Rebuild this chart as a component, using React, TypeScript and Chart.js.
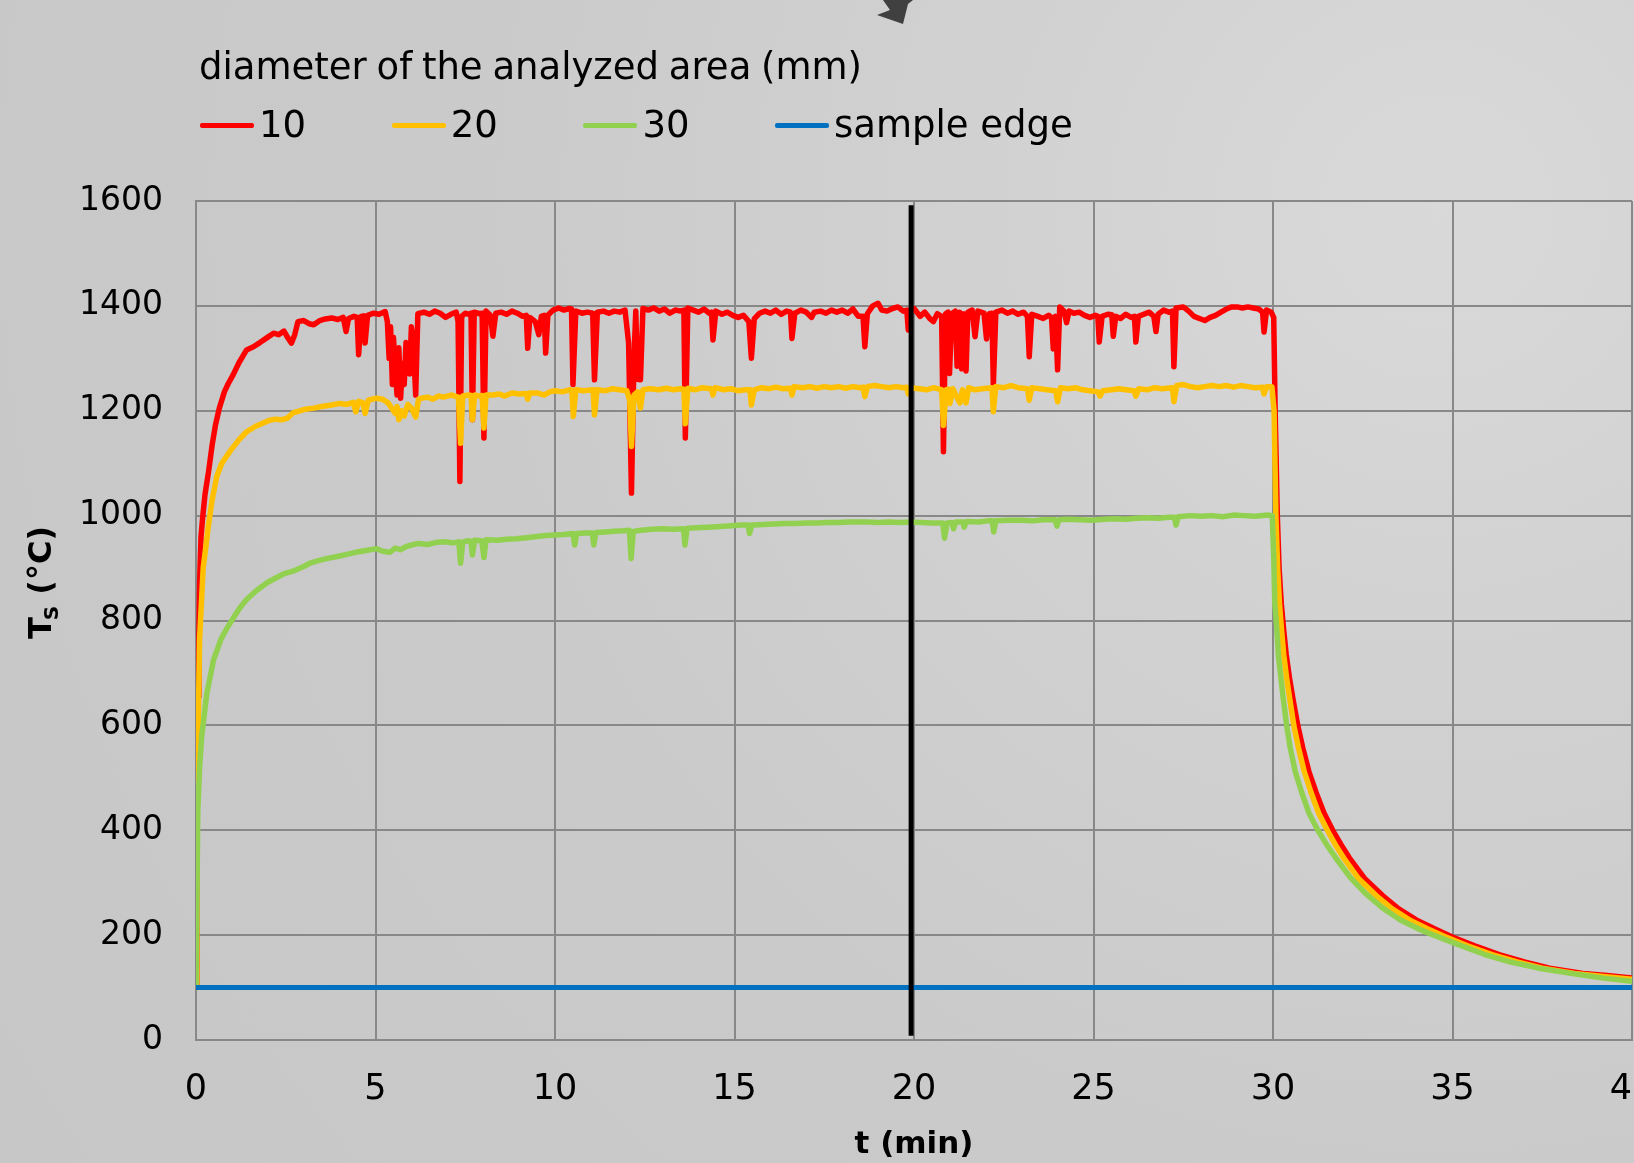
import React, { useEffect, useRef } from "react";
import { Chart, registerables } from "chart.js";

Chart.register(...registerables);

// ---------- data: [t (min), Ts (°C)] ----------
const xTicks = [0, 5, 10, 15, 20, 25, 30, 35, 40];
const yTicks = [0, 200, 400, 600, 800, 1000, 1200, 1400, 1600];

const seriesNames = ["10", "20", "30", "sample edge"];
const seriesColors = ["#ff0000", "#ffc000", "#92d050", "#0070c0"];

const series10: [number, number][] = [
  [0, 100], [0.02, 400], [0.04, 545], [0.06, 655], [0.08, 765], [0.1, 875], [0.14, 960], [0.18, 992], [0.25, 1040], [0.35, 1084],
  [0.45, 1135], [0.54, 1172], [0.65, 1205], [0.79, 1236], [0.9, 1252], [1.03, 1268], [1.2, 1292], [1.41, 1316], [1.6, 1322], [1.78, 1330],
  [1.95, 1338], [2.16, 1348], [2.3, 1345], [2.45, 1352], [2.55, 1340], [2.66, 1329], [2.75, 1345], [2.84, 1370], [3.0, 1372], [3.15, 1366],
  [3.28, 1364], [3.45, 1372], [3.6, 1375], [3.78, 1377], [3.95, 1374], [4.1, 1378], [4.18, 1351], [4.25, 1376], [4.4, 1380], [4.49, 1378],
  [4.53, 1307], [4.6, 1380], [4.67, 1381], [4.71, 1329], [4.78, 1382], [4.95, 1386], [5.1, 1384], [5.27, 1389], [5.33, 1370], [5.38, 1300],
  [5.42, 1360], [5.47, 1250], [5.5, 1340], [5.55, 1280], [5.6, 1230], [5.65, 1320], [5.7, 1224], [5.75, 1290], [5.8, 1250], [5.85, 1330],
  [5.9, 1300], [5.95, 1270], [6.0, 1360], [6.05, 1330], [6.12, 1230], [6.18, 1385], [6.35, 1388], [6.5, 1384], [6.65, 1390], [6.8, 1386],
  [6.95, 1378], [7.1, 1384], [7.25, 1388], [7.3, 1370], [7.35, 1065], [7.4, 1380], [7.5, 1386], [7.6, 1384], [7.66, 1386], [7.7, 1183],
  [7.75, 1388], [7.9, 1385], [7.97, 1386], [8.02, 1148], [8.08, 1390], [8.2, 1382], [8.27, 1342], [8.35, 1386], [8.5, 1388], [8.65, 1384],
  [8.8, 1390], [8.95, 1386], [9.1, 1380], [9.2, 1382], [9.24, 1319], [9.3, 1378], [9.45, 1370], [9.55, 1345], [9.62, 1380], [9.7, 1382],
  [9.74, 1310], [9.8, 1382], [9.95, 1392], [10.1, 1396], [10.25, 1392], [10.4, 1395], [10.46, 1394], [10.5, 1250], [10.58, 1390], [10.75, 1386],
  [10.9, 1388], [11.05, 1386], [11.1, 1259], [11.18, 1388], [11.35, 1390], [11.5, 1386], [11.65, 1390], [11.8, 1388], [11.95, 1392], [12.05, 1330],
  [12.13, 1043], [12.2, 1300], [12.25, 1390], [12.3, 1260], [12.38, 1259], [12.45, 1395], [12.6, 1392], [12.75, 1396], [12.9, 1390], [13.05, 1394],
  [13.2, 1386], [13.35, 1392], [13.5, 1390], [13.59, 1392], [13.63, 1148], [13.7, 1396], [13.85, 1392], [14.0, 1388], [14.15, 1394], [14.3, 1386],
  [14.36, 1388], [14.4, 1335], [14.48, 1390], [14.65, 1384], [14.8, 1388], [14.95, 1382], [15.1, 1378], [15.25, 1382], [15.4, 1370], [15.47, 1300],
  [15.55, 1375], [15.7, 1386], [15.85, 1390], [16.0, 1386], [16.15, 1392], [16.3, 1384], [16.45, 1390], [16.56, 1388], [16.6, 1338], [16.68, 1386],
  [16.85, 1392], [17.0, 1388], [17.15, 1378], [17.22, 1388], [17.4, 1390], [17.55, 1386], [17.7, 1392], [17.85, 1388], [18.0, 1392], [18.15, 1386],
  [18.3, 1394], [18.45, 1380], [18.58, 1380], [18.63, 1322], [18.7, 1385], [18.85, 1400], [19.0, 1405], [19.1, 1392], [19.25, 1390], [19.4, 1395],
  [19.55, 1398], [19.7, 1390], [19.8, 1392], [19.84, 1354], [19.9, 1392], [20.0, 1395], [20.17, 1380], [20.3, 1388], [20.45, 1375], [20.54, 1370],
  [20.65, 1385], [20.77, 1380], [20.82, 1122], [20.88, 1385], [20.95, 1388], [20.99, 1271], [21.05, 1385], [21.15, 1390], [21.2, 1285], [21.27, 1388],
  [21.33, 1280], [21.38, 1385], [21.45, 1276], [21.5, 1388], [21.62, 1392], [21.7, 1341], [21.78, 1390], [21.95, 1386], [22.02, 1337], [22.1, 1385],
  [22.17, 1386], [22.21, 1249], [22.28, 1388], [22.45, 1392], [22.6, 1386], [22.75, 1390], [22.9, 1384], [23.05, 1388], [23.16, 1380], [23.21, 1303],
  [23.28, 1384], [23.45, 1380], [23.6, 1376], [23.75, 1382], [23.83, 1378], [23.88, 1318], [23.94, 1380], [24.0, 1278], [24.06, 1398], [24.18, 1390],
  [24.25, 1368], [24.32, 1390], [24.45, 1386], [24.6, 1388], [24.75, 1382], [24.9, 1378], [25.05, 1382], [25.12, 1380], [25.16, 1331], [25.24, 1380],
  [25.4, 1384], [25.51, 1383], [25.55, 1342], [25.62, 1380], [25.75, 1376], [25.9, 1384], [26.05, 1378], [26.14, 1380], [26.18, 1331], [26.25, 1380],
  [26.4, 1384], [26.55, 1388], [26.68, 1380], [26.74, 1351], [26.8, 1384], [26.95, 1392], [27.1, 1388], [27.2, 1390], [27.24, 1284], [27.3, 1396],
  [27.5, 1398], [27.65, 1390], [27.8, 1380], [27.95, 1376], [28.1, 1372], [28.25, 1378], [28.4, 1382], [28.55, 1388], [28.7, 1394], [28.85, 1398],
  [29.0, 1398], [29.15, 1396], [29.3, 1398], [29.45, 1396], [29.6, 1394], [29.71, 1388], [29.75, 1350], [29.82, 1392], [29.95, 1388], [30.02, 1378],
  [30.06, 1200], [30.12, 1000], [30.17, 900], [30.23, 833], [30.3, 780], [30.37, 734], [30.46, 690], [30.56, 649], [30.69, 600], [30.83, 557],
  [31.0, 512], [31.2, 472], [31.42, 433], [31.67, 399], [31.9, 372], [32.13, 347], [32.55, 308], [33.06, 275], [33.5, 250], [33.99, 229],
  [34.5, 212], [34.98, 197], [35.6, 180], [36.3, 163], [37.0, 149], [37.7, 137], [38.63, 127], [39.3, 123], [40, 118],
];

const series20: [number, number][] = [
  [0, 100], [0.02, 330], [0.05, 545], [0.1, 765], [0.2, 900], [0.35, 983], [0.45, 1030], [0.58, 1075], [0.72, 1100], [0.97, 1125],
  [1.2, 1145], [1.41, 1160], [1.65, 1170], [1.85, 1176], [2.05, 1182], [2.22, 1184], [2.4, 1183], [2.55, 1186], [2.7, 1196], [2.84, 1199],
  [3.05, 1203], [3.28, 1205], [3.5, 1208], [3.78, 1211], [4.0, 1214], [4.2, 1212], [4.38, 1216], [4.45, 1198], [4.53, 1218], [4.65, 1215],
  [4.71, 1195], [4.8, 1220], [5.02, 1224], [5.2, 1222], [5.35, 1215], [5.45, 1205], [5.55, 1195], [5.6, 1208], [5.65, 1183], [5.72, 1200],
  [5.8, 1190], [5.9, 1212], [6.0, 1205], [6.12, 1188], [6.2, 1222], [6.27, 1224], [6.45, 1226], [6.6, 1222], [6.75, 1228], [6.9, 1226],
  [7.1, 1230], [7.31, 1226], [7.37, 1138], [7.43, 1228], [7.6, 1230], [7.66, 1229], [7.7, 1183], [7.76, 1230], [7.9, 1228], [7.97, 1229],
  [8.02, 1167], [8.08, 1230], [8.27, 1230], [8.45, 1232], [8.6, 1228], [8.8, 1234], [9.0, 1232], [9.2, 1233], [9.24, 1222], [9.3, 1234],
  [9.51, 1234], [9.7, 1230], [9.85, 1236], [10.0, 1238], [10.2, 1236], [10.4, 1240], [10.47, 1239], [10.51, 1189], [10.58, 1240], [10.8, 1238],
  [11.06, 1240], [11.1, 1192], [11.17, 1240], [11.4, 1238], [11.6, 1242], [11.8, 1240], [12.0, 1238], [12.08, 1220], [12.13, 1132], [12.2, 1230],
  [12.3, 1236], [12.38, 1205], [12.45, 1240], [12.65, 1242], [12.9, 1240], [13.1, 1243], [13.3, 1240], [13.5, 1242], [13.59, 1241], [13.63, 1175],
  [13.7, 1243], [13.9, 1240], [14.1, 1244], [14.36, 1242], [14.4, 1230], [14.46, 1244], [14.7, 1240], [14.9, 1242], [15.1, 1238], [15.3, 1240],
  [15.43, 1240], [15.47, 1211], [15.55, 1240], [15.75, 1244], [15.95, 1242], [16.15, 1245], [16.35, 1242], [16.56, 1243], [16.6, 1230], [16.66, 1246],
  [16.9, 1244], [17.1, 1246], [17.3, 1243], [17.5, 1246], [17.7, 1244], [17.9, 1246], [18.1, 1243], [18.3, 1246], [18.5, 1244], [18.58, 1245],
  [18.63, 1227], [18.7, 1246], [18.9, 1248], [19.1, 1246], [19.3, 1244], [19.5, 1246], [19.7, 1244], [19.8, 1245], [19.84, 1232], [19.9, 1244],
  [20.15, 1242], [20.35, 1240], [20.55, 1244], [20.77, 1240], [20.82, 1172], [20.9, 1240], [20.96, 1241], [21.0, 1214], [21.08, 1242], [21.2, 1225],
  [21.28, 1215], [21.35, 1240], [21.45, 1215], [21.52, 1244], [21.7, 1240], [21.9, 1242], [22.17, 1244], [22.21, 1198], [22.28, 1246], [22.5, 1244],
  [22.7, 1248], [22.9, 1244], [23.16, 1242], [23.21, 1220], [23.28, 1244], [23.5, 1242], [23.7, 1240], [23.95, 1238], [24.0, 1217], [24.08, 1244],
  [24.3, 1242], [24.5, 1244], [24.7, 1240], [24.9, 1238], [25.13, 1236], [25.18, 1228], [25.26, 1238], [25.5, 1240], [25.7, 1242], [25.9, 1240],
  [26.13, 1238], [26.18, 1228], [26.26, 1242], [26.5, 1240], [26.7, 1244], [26.9, 1242], [27.2, 1244], [27.24, 1217], [27.32, 1248], [27.5, 1250],
  [27.7, 1246], [27.9, 1244], [28.1, 1246], [28.3, 1248], [28.5, 1246], [28.7, 1248], [28.9, 1245], [29.1, 1248], [29.3, 1246], [29.5, 1244],
  [29.71, 1245], [29.75, 1232], [29.82, 1246], [29.97, 1246], [30.03, 1200], [30.08, 1000], [30.13, 900], [30.18, 833], [30.24, 780], [30.3, 734],
  [30.38, 690], [30.47, 649], [30.58, 600], [30.71, 557], [30.87, 512], [31.06, 472], [31.27, 433], [31.52, 399], [31.74, 372], [31.97, 347],
  [32.38, 308], [32.88, 275], [33.32, 250], [33.8, 229], [34.3, 212], [34.8, 197], [35.4, 180], [36.1, 163], [36.8, 149], [37.5, 137],
  [38.4, 127], [39.2, 121], [40, 116],
];

const series30: [number, number][] = [
  [0, 100], [0.05, 436], [0.1, 520], [0.16, 580], [0.3, 660], [0.49, 725], [0.7, 765], [0.86, 785], [1.07, 808], [1.23, 825],
  [1.41, 840], [1.6, 852], [1.78, 862], [2.0, 873], [2.25, 882], [2.48, 890], [2.7, 894], [3.0, 903], [3.2, 910], [3.46, 915],
  [3.7, 919], [4.0, 923], [4.2, 926], [4.45, 930], [4.7, 933], [5.03, 937], [5.2, 932], [5.4, 930], [5.55, 938], [5.7, 935],
  [5.85, 941], [6.0, 944], [6.2, 947], [6.45, 945], [6.7, 949], [6.95, 950], [7.15, 948], [7.32, 950], [7.37, 909], [7.43, 950],
  [7.6, 952], [7.66, 951], [7.7, 925], [7.76, 953], [7.96, 952], [8.02, 920], [8.08, 954], [8.4, 953], [8.65, 955], [8.93, 956],
  [9.2, 958], [9.5, 960], [9.75, 962], [10.0, 963], [10.25, 964], [10.5, 966], [10.55, 944], [10.6, 966], [10.85, 967], [11.04, 967],
  [11.08, 944], [11.14, 968], [11.4, 969], [11.65, 970], [11.9, 971], [12.07, 972], [12.12, 918], [12.18, 970], [12.4, 972], [12.7, 974],
  [13.0, 975], [13.3, 974], [13.58, 975], [13.62, 944], [13.68, 976], [13.95, 977], [14.25, 978], [14.5, 979], [14.8, 980], [15.2, 982],
  [15.38, 982], [15.42, 966], [15.48, 982], [15.8, 983], [16.1, 984], [16.4, 985], [16.7, 985], [17.0, 986], [17.3, 986], [17.6, 987],
  [17.9, 987], [18.2, 988], [18.5, 988], [18.7, 988], [19.0, 987], [19.3, 988], [19.6, 987], [19.9, 988], [20.2, 987], [20.5, 986],
  [20.8, 986], [20.85, 957], [20.92, 986], [21.05, 987], [21.1, 975], [21.16, 988], [21.36, 988], [21.4, 978], [21.46, 989], [21.8, 988],
  [22.05, 990], [22.18, 990], [22.22, 969], [22.28, 990], [22.6, 991], [23.0, 991], [23.3, 990], [23.6, 992], [23.93, 992], [23.98, 980],
  [24.04, 992], [24.3, 993], [24.6, 992], [24.96, 991], [25.3, 993], [25.6, 994], [25.9, 993], [26.2, 995], [26.5, 996], [26.8, 995],
  [27.1, 997], [27.25, 997], [27.3, 982], [27.36, 998], [27.7, 1000], [28.0, 999], [28.3, 1000], [28.6, 998], [28.9, 1001], [29.2, 1000],
  [29.5, 999], [29.85, 1001], [29.98, 1000], [30.02, 920], [30.05, 833], [30.1, 790], [30.15, 734], [30.22, 690], [30.29, 649], [30.38, 600],
  [30.48, 557], [30.62, 512], [30.8, 472], [31.0, 433], [31.25, 400], [31.5, 372], [31.75, 347], [32.15, 310], [32.6, 278], [33.05, 252],
  [33.55, 229], [34.05, 212], [34.55, 198], [35.2, 181], [35.9, 163], [36.6, 149], [37.4, 137], [38.3, 127], [39.2, 118], [40, 112],
];

const seriesEdge: [number, number][] = [[0, 100], [40, 100]];

// vertical marker at t ≈ 20 min
const markerTime = 19.92;
const markerRange = [8, 1592];

const toPoints = (pairs: [number, number][]) => pairs.map(([x, y]) => ({ x, y }));

const FONT = "'DejaVu Sans', 'Noto Sans', sans-serif";
const GRID = "#888888";

const yTitlePlugin = {
  id: "yTitleSub",
  afterDraw(chart: any) {
    const ctx = chart.ctx;
    ctx.save();
    ctx.translate(51, 639);
    ctx.rotate(-Math.PI / 2);
    ctx.fillStyle = "#000";
    ctx.textBaseline = "alphabetic";
    ctx.textAlign = "left";
    ctx.font = `bold 32px ${FONT}`;
    ctx.fillText("T", 0, 0);
    const wT = ctx.measureText("T").width;
    ctx.font = `bold 20px ${FONT}`;
    ctx.fillText("S", wT - 3, 7);
    const wS = ctx.measureText("S").width;
    ctx.font = `bold 32px ${FONT}`;
    ctx.fillText(" (°C)", wT - 3 + wS, 0);
    ctx.restore();
  },
};

export default function App() {
  const ref = useRef<HTMLCanvasElement | null>(null);

  useEffect(() => {
    if (!ref.current) return;
    const common = {
      pointRadius: 0,
      pointHoverRadius: 0,
      borderWidth: 5.5,
      tension: 0,
      fill: false,
      borderCapStyle: "round" as const,
      borderJoinStyle: "round" as const,
    };
    const chart = new Chart(ref.current, {
      type: "line",
      data: {
        datasets: [
          { ...common, label: "marker", data: toPoints([[markerTime, markerRange[0]], [markerTime, markerRange[1]]]), borderColor: "#000000", borderWidth: 5, borderCapStyle: "butt", order: 0 },
          { ...common, label: seriesNames[3], data: toPoints(seriesEdge), borderColor: seriesColors[3], borderWidth: 5, borderCapStyle: "butt", order: 1 },
          { ...common, label: seriesNames[2], data: toPoints(series30), borderColor: seriesColors[2], order: 2 },
          { ...common, label: seriesNames[1], data: toPoints(series20), borderColor: seriesColors[1], order: 3 },
          { ...common, label: seriesNames[0], data: toPoints(series10), borderColor: seriesColors[0], order: 4 },
        ] as any,
      },
      options: {
        responsive: false,
        animation: false,
        events: [],
        layout: { padding: { top: 201, left: 0, right: 2, bottom: 0 } },
        plugins: { legend: { display: false }, tooltip: { enabled: false }, title: { display: false } },
        scales: {
          x: {
            type: "linear",
            min: xTicks[0],
            max: xTicks[xTicks.length - 1],
            afterBuildTicks: (s: any) => { s.ticks = xTicks.map((v) => ({ value: v })); },
            afterFit: (s: any) => { s.height = 123; s.paddingLeft = 0; s.paddingRight = 0; },
            grid: { color: GRID, lineWidth: 2, drawTicks: false },
            border: { color: GRID, width: 2 },
            ticks: { color: "#000", padding: 29, maxRotation: 0, autoSkip: false, font: { family: FONT, size: 35 }, callback: (v: any) => String(v) },
            title: { display: true, text: "t (min)", color: "#000", font: { family: FONT, size: 31, weight: "bold", lineHeight: 1 }, padding: { top: 0, bottom: 3 } },
          },
          y: {
            type: "linear",
            min: yTicks[0],
            max: yTicks[yTicks.length - 1],
            afterBuildTicks: (s: any) => { s.ticks = yTicks.map((v) => ({ value: v })); },
            afterFit: (s: any) => { s.width = 196; s.paddingTop = 0; s.paddingBottom = 0; },
            grid: { color: GRID, lineWidth: 2, drawTicks: false },
            border: { color: GRID, width: 2 },
            ticks: { color: "#000", padding: 33, autoSkip: false, font: { family: FONT, size: 33 }, callback: (v: any) => String(v) },
          },
        },
      } as any,
      plugins: [yTitlePlugin],
    });
    return () => chart.destroy();
  }, []);

  return (
    <div
      style={{
        position: "fixed",
        left: 0,
        top: 0,
        width: 1634,
        height: 1163,
        overflow: "hidden",
        background: "radial-gradient(circle at 88% 18%, #d9d9d9 0%, #d1d1d1 28%, #cacaca 58%, #c7c7c7 100%)",
        fontFamily: FONT,
        color: "#000",
      }}
    >
      <svg width={1634} height={40} style={{ position: "absolute", left: 0, top: 0 }}>
        <polygon points="883,0 890,10 877,15 903,24 908,4 913,0" fill="#404040" />
      </svg>
      <div style={{ position: "absolute", left: 199, top: 48, fontSize: 37, lineHeight: "37px", whiteSpace: "nowrap", wordSpacing: -2 }}>
        diameter of the analyzed area (mm)
      </div>
      <div style={{ position: "absolute", left: 200, top: 107, display: "flex", height: 36 }}>
        {seriesNames.map((n, i) => (
          <div key={n} style={{ width: 191.7, flexShrink: 0, display: "flex", alignItems: "center", height: 36 }}>
            <div style={{ width: 54, height: 5, flexShrink: 0, background: seriesColors[i], borderRadius: 2 }} />
            <span style={{ marginLeft: 5, fontSize: 37, lineHeight: "36px", whiteSpace: "nowrap" }}>{n}</span>
          </div>
        ))}
      </div>
      <canvas ref={ref} width={1634} height={1163} style={{ position: "absolute", left: 0, top: 0 }} />
    </div>
  );
}
